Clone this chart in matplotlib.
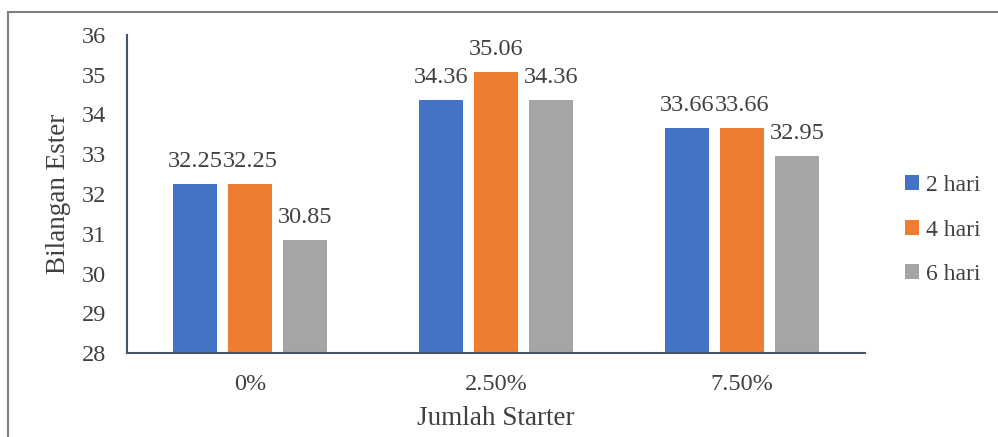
import matplotlib
matplotlib.use("Agg")
import matplotlib.pyplot as plt
from matplotlib.patches import Rectangle
import numpy as np

categories = ["0%", "2.50%", "7.50%"]
series_names = ["2 hari", "4 hari", "6 hari"]
v2 = [32.25, 34.36, 33.66]
v4 = [32.25, 35.06, 33.66]
v6 = [30.85, 34.36, 32.95]
values = [v2, v4, v6]
colors = ["#4472C4", "#ED7D31", "#A5A5A5"]

plt.rcParams['font.family'] = ['Liberation Serif', 'DejaVu Serif']
txt = "#404040"

fig = plt.figure(figsize=(9.98, 4.37), dpi=100)
ax = fig.add_axes([127/998, 1-353/437, (865-127)/998, (353-35)/437])

x = np.arange(len(categories))
width = 0.176
pitch = 0.224
for i, (name, vals, c) in enumerate(zip(series_names, values, colors)):
    pos = x + (i - 1) * pitch
    ax.bar(pos, vals, width, color=c, label=name, zorder=2)
    for p, v in zip(pos, vals):
        ax.text(p, v + 0.3, f"{v:g}", ha="center", va="bottom", fontsize=17.5, color=txt)

ax.set_xlim(-0.5, 2.5)
ax.set_ylim(28, 36)
ax.set_yticks(np.arange(28, 37, 1))
ax.set_xticks(x)
ax.set_xticklabels(categories)
ax.tick_params(axis='both', length=0, labelsize=17.5, labelcolor=txt)
ax.tick_params(axis='x', pad=15)
ax.tick_params(axis='y', pad=15)
for s in ["top", "right"]:
    ax.spines[s].set_visible(False)
for s in ["left", "bottom"]:
    ax.spines[s].set_color("#44546A")
    ax.spines[s].set_linewidth(1.5)
ax.set_xlabel("Jumlah Starter", fontsize=19.5, color=txt, labelpad=8)
ax.set_ylabel("Bilangan Ester", fontsize=19.5, color=txt, labelpad=8)

leg = fig.legend(loc="center left", bbox_to_anchor=(900/998, 1-230/437), frameon=False,
                 fontsize=17, handlelength=0.6, handleheight=0.6, handletextpad=0.3,
                 labelspacing=1.0, labelcolor=txt, borderaxespad=0, borderpad=0.2)

fig.patches.append(Rectangle((8/998, -0.05), 1.2, 1.05-12/437, transform=fig.transFigure,
                             fill=False, edgecolor="#7F7F7F", linewidth=1.5))

fig.savefig("out.png", dpi=100)
